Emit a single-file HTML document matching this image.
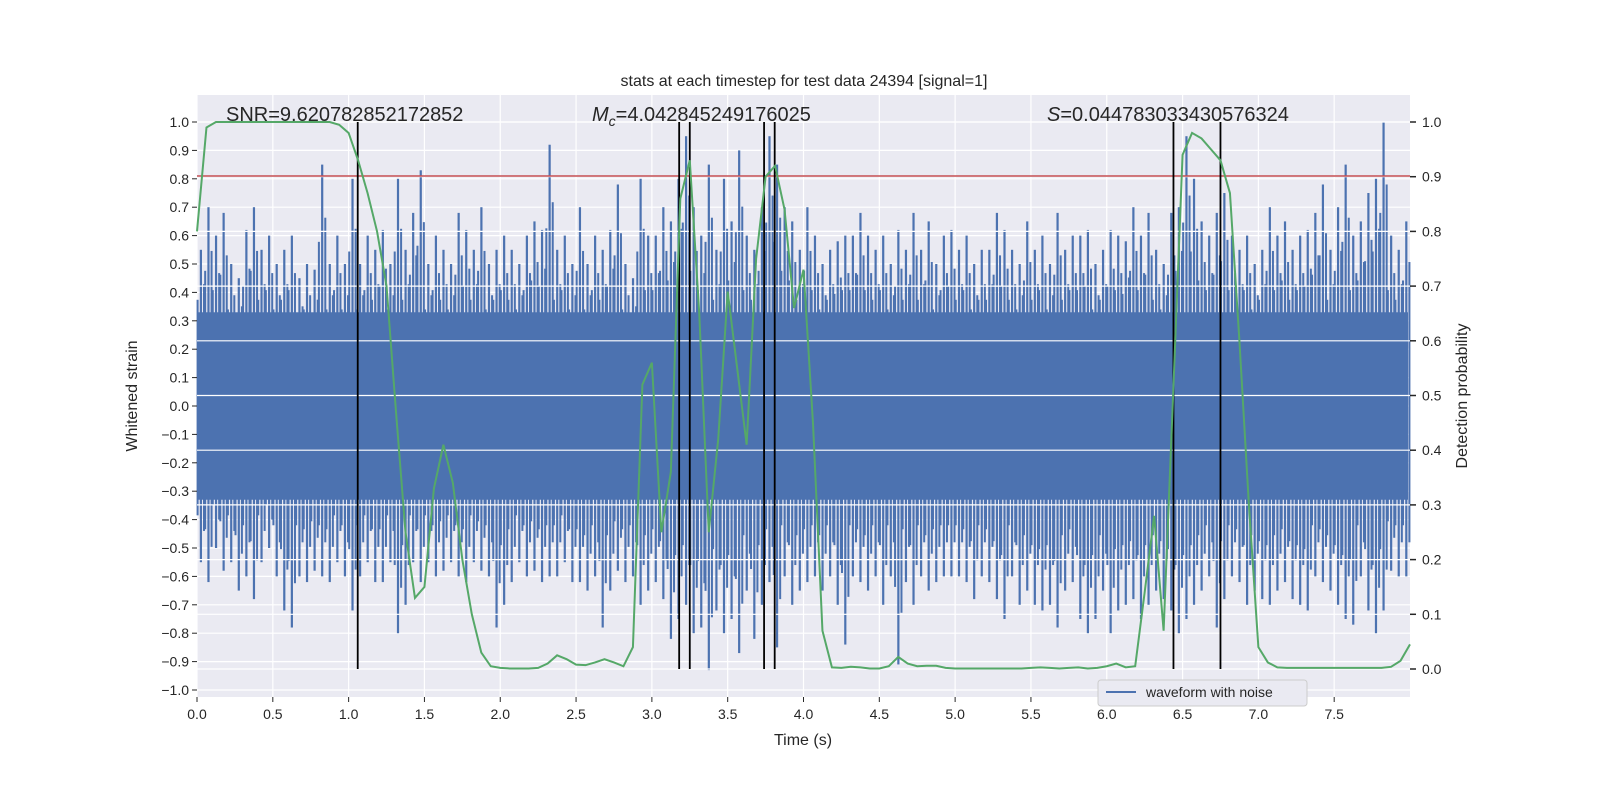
<!DOCTYPE html>
<html><head><meta charset="utf-8"><style>
html,body{margin:0;padding:0;background:#fff;width:1600px;height:800px;overflow:hidden;}
svg{display:block;font-family:"Liberation Sans","DejaVu Sans",sans-serif;}
</style></head><body>
<svg id="chart" width="1600" height="800" viewBox="0 0 1600 800" xmlns="http://www.w3.org/2000/svg">
<rect x="197" y="95" width="1213" height="602" fill="#eaeaf2"/>
<g id="grid"></g>
<g id="wave"></g>
<g id="grid2"></g>
<line id="thresh" stroke="#c44e52" stroke-width="1.5"/>
<g id="vlines"></g>
<polyline id="prob" fill="none" stroke="#55a868" stroke-width="2"/>
<g id="axes"></g>
<text x="804" y="86" font-size="16" text-anchor="middle" fill="#262626">stats at each timestep for test data 24394 [signal=1]</text>
<text x="226" y="121" font-size="20" fill="#262626">SNR=9.620782852172852</text>
<text x="592" y="121" font-size="20" fill="#262626"><tspan font-style="italic">M</tspan><tspan font-size="14" font-style="italic" dy="5">c</tspan><tspan dy="-5">=4.042845249176025</tspan></text>
<text x="1047" y="121" font-size="20" fill="#262626"><tspan font-style="italic">S</tspan>=0.044783033430576324</text>
<text x="803" y="745" font-size="16" text-anchor="middle" fill="#262626">Time (s)</text>
<text transform="translate(137,396) rotate(-90)" font-size="16" text-anchor="middle" fill="#262626">Whitened strain</text>
<text transform="translate(1467,396) rotate(-90)" font-size="16" text-anchor="middle" fill="#262626">Detection probability</text>
<g>
<rect x="1098" y="680" width="209" height="26" rx="3" fill="#eaeaf2" stroke="#cccccc"/>
<line x1="1106" y1="692" x2="1136" y2="692" stroke="#4c72b0" stroke-width="2"/>
<text x="1146" y="697" font-size="14" fill="#262626">waveform with noise</text>
</g>
</svg>
<script>
const binWidth = 0.05;
const upper = [.55,.7,.6,.68,.5,.45,.62,.7,.55,.6, .5,.55,.6,.45,.5,.48,.85,.5,.6,.5,
 .8,.5,.6,.55,.62,.5,.8,.55,.68,.83, .5,.6,.55,.5,.68,.62,.55,.7,.5,.55,
 .6,.55,.5,.6,.65,.62,.92,.55,.6,.5, .7,.5,.6,.55,.62,.78,.5,.45,.8,.6,
 .6,.7,.65,.8,.95,.7,.6,.85,.55,.8, .65,.9,.6,.55,.7,.95,.85,.7,.65,.55,
 .7,.6,.5,.55,.58,.6,.6,.68,.6,.55, .6,.5,.62,.55,.68,.55,.65,.5,.6,.62,
 .55,.6,.5,.55,.55,.68,.62,.55,.5,.65, .55,.6,.5,.68,.55,.6,.6,.62,.5,.55,
 .62,.6,.58,.7,.6,.68,.55,.5,.68,.7, .95,.8,.65,.6,.68,.75,.6,.55,.6,.5,
 .55,.7,.6,.65,.55,.6,.62,.68,.78,.55, .7,.85,.6,.65,.75,.8,1.0,.6,.55,.65];
const lower = [-.55,-.62,-.5,-.58,-.55,-.65,-.6,-.68,-.55,-.5, -.6,-.72,-.78,-.6,-.62,-.58,-.6,-.62,-.55,-.6,
 -.72,-.6,-.55,-.62,-.62,-.55,-.8,-.7,-.55,-.62, -.55,-.6,-.58,-.55,-.6,-.62,-.55,-.58,-.6,-.78,
 -.7,-.62,-.55,-.6,-.58,-.62,-.6,-.6,-.55,-.62, -.62,-.65,-.6,-.78,-.65,-.58,-.62,-.6,-.7,-.65,
 -.62,-.68,-.82,-.75,-.7,-.8,-.78,-.93,-.72,-.8, -.75,-.87,-.65,-.82,-.7,-.62,-.85,-.6,-.7,-.65,
 -.62,-.6,-.65,-.6,-.7,-.84,-.6,-.62,-.65,-.6, -.7,-.6,-.91,-.62,-.7,-.6,-.65,-.62,-.6,-.6,
 -.6,-.62,-.68,-.6,-.62,-.68,-.75,-.6,-.7,-.65, -.7,-.72,-.7,-.78,-.65,-.62,-.75,-.8,-.75,-.65,
 -.8,-.72,-.7,-.68,-.75,-.7,-.65,-.68,-.72,-.8, -.75,-.7,-.65,-.6,-.78,-.68,-.6,-.62,-.7,-.65,
 -.68,-.7,-.65,-.62,-.68,-.7,-.72,-.6,-.62,-.65, -.7,-.75,-.77,-.6,-.72,-.8,-.72,-.58,-.6,-.6];
const coreAmp = 0.33;
const probStep = 0.0625;
const prob = [0.8,0.99,1,1,1,1,1,1,1,1,1,1,1,1,1,0.995,0.98,0.93,0.87,0.8,0.7,0.47,0.25,0.13,0.15,0.33,0.41,0.34,0.2,0.1,0.03,0.005,
 0.002,0.001,0.001,0.001,0.002,0.01,0.025,0.018,0.008,0.007,0.012,0.018,0.012,0.005,0.04,0.52,0.56,0.25,0.36,0.86,0.93,0.65,0.25,0.42,0.69,0.55,0.41,0.75,0.9,0.92,0.84,0.66,
 0.73,0.45,0.07,0.003,0.002,0.004,0.003,0.001,0.001,0.005,0.022,0.01,0.005,0.006,0.006,0.002,0.001,0.001,0.001,0.001,0.001,0.001,0.001,0.001,0.002,0.003,0.002,0.001,0.002,0.003,0.001,0.002,
 0.005,0.01,0.003,0.005,0.14,0.28,0.07,0.5,0.94,0.98,0.97,0.95,0.93,0.87,0.6,0.3,0.04,0.012,0.003,0.002,0.002,0.002,0.002,0.002,0.002,0.002,0.002,0.002,0.002,0.002,0.004,0.015,0.045];
const markerTimes = [1.06,3.18,3.25,3.74,3.81,6.44,6.75];
const threshold = 0.81;
const xTicks = [0,0.5,1,1.5,2,2.5,3,3.5,4,4.5,5,5.5,6,6.5,7,7.5];
const yTicks = [-1,-0.9,-0.8,-0.7,-0.6,-0.5,-0.4,-0.3,-0.2,-0.1,0,0.1,0.2,0.3,0.4,0.5,0.6,0.7,0.8,0.9,1];
const y2Ticks = [0,0.1,0.2,0.3,0.4,0.5,0.6,0.7,0.8,0.9,1];

const X0=197,X1=1410,T=95,B=697;
const sx = t => X0 + (t-0)/(8-0)*(X1-X0);
const sy = v => 122 + (1-v)/2*568;
const sy2 = p => 669 - p*547;
const NS='http://www.w3.org/2000/svg';
function mk(tag, attrs, parent){const e=document.createElementNS(NS,tag);for(const k in attrs)e.setAttribute(k,attrs[k]);parent.appendChild(e);return e;}

const grid=document.getElementById('grid');
const grid2=document.getElementById('grid2');
xTicks.forEach(t=>{const l=mk('line',{x1:sx(t),x2:sx(t),y1:T,y2:B,stroke:'#fff','stroke-width':1.2},grid);

});
yTicks.forEach(v=>{const l=mk('line',{x1:X0,x2:X1,y1:sy(v),y2:sy(v),stroke:'#fff','stroke-width':1.2},grid);

});
y2Ticks.forEach(p=>{const l=mk('line',{x1:X0,x2:X1,y1:sy2(p),y2:sy2(p),stroke:'#fff','stroke-width':1.2},grid2);

});

const wave=document.getElementById('wave');
const core=mk('rect',{x:X0,y:sy(coreAmp),width:X1-X0-2,height:sy(-coreAmp)-sy(coreAmp),fill:'#4c72b0'},wave);


upper.forEach((u,i)=>{
  const x=sx(i*binWidth+binWidth/2);
  const s=mk('rect',{x:x-1,y:sy(u),width:2.2,height:sy(lower[i])-sy(u),fill:'#4c72b0'},wave);
  
  
  const s2=mk('rect',{x:x+2.2,y:sy(u*0.78),width:2,height:sy(lower[i]*0.8)-sy(u*0.78),fill:'#4c72b0'},wave);
  
  
  const s3=mk('rect',{x:x-4.2,y:sy(u*0.68),width:2,height:sy(lower[i]*0.7)-sy(u*0.68),fill:'#4c72b0'},wave);
  
  
});

const th=document.getElementById('thresh');
th.setAttribute('x1',X0);th.setAttribute('x2',X1);th.setAttribute('y1',sy(threshold));th.setAttribute('y2',sy(threshold));

const vl=document.getElementById('vlines');
markerTimes.forEach(t=>{const l=mk('line',{x1:sx(t),x2:sx(t),y1:sy2(1),y2:sy2(0),stroke:'#000','stroke-width':1.8},vl);

});

document.getElementById('prob').setAttribute('points',prob.map((p,i)=>sx(i*probStep)+','+sy2(p)).join(' '));

const ax=document.getElementById('axes');
xTicks.forEach(t=>{
  const l=mk('line',{x1:sx(t),x2:sx(t),y1:B,y2:B+5,stroke:'#262626','stroke-width':1},ax);
  
  
  const tx=mk('text',{x:sx(t),y:B+22,'font-size':14,'text-anchor':'middle',fill:'#262626'},ax);
  tx.textContent=t.toFixed(1);
  
  
});
yTicks.forEach(v=>{
  const l=mk('line',{x1:X0-5,x2:X0,y1:sy(v),y2:sy(v),stroke:'#262626','stroke-width':1},ax);
  
  
  const tx=mk('text',{x:X0-8,y:sy(v)+5,'font-size':14,'text-anchor':'end',fill:'#262626'},ax);
  tx.textContent=(Math.abs(v)<1e-9?0:v).toFixed(1).replace('-','\u2212');
  
  
});
y2Ticks.forEach(p=>{
  const l=mk('line',{x1:X1,x2:X1+6,y1:sy2(p),y2:sy2(p),stroke:'#262626','stroke-width':1.5},ax);
  
  
  const tx=mk('text',{x:X1+12,y:sy2(p)+5,'font-size':14,fill:'#262626'},ax);
  tx.textContent=p.toFixed(1);
  
  
});
</script>
</body></html>
